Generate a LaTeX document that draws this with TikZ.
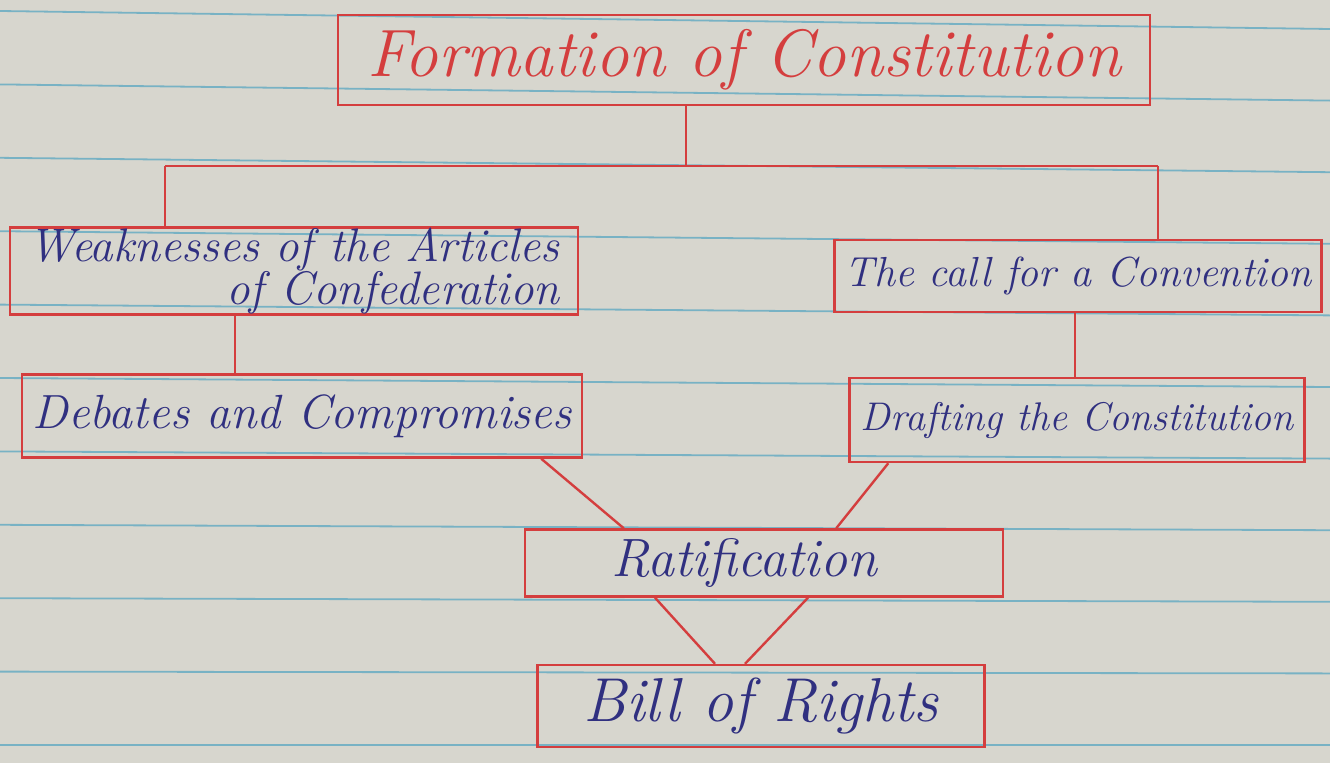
\documentclass[tikz,border=0pt]{standalone}
\usetikzlibrary{calc}

\definecolor{paper}{RGB}{215,214,206}
\definecolor{ruling}{RGB}{120,178,196}
\definecolor{redpen}{RGB}{212,62,62}
\definecolor{bluepen}{RGB}{48,48,128}

\begin{document}
\begin{tikzpicture}[x=1pt,y=1pt,yscale=-1,xscale=1,
		box/.style={draw=redpen, line width=2.4pt, inner sep=0pt, align=center, font=\itshape, text=bluepen},
		link/.style={draw=redpen, line width=2.4pt}]
		
		% Shape: Papier mit Linien
		\fill [paper] (0,0) rectangle (1330,763);
		\useasboundingbox (0,0) rectangle (1330,763);
		\foreach \k in {0,...,10} {
			\draw [ruling, line width=1.8pt] (0,{11+73.4*\k}) -- (1330,{11+73.4*\k+18*(1-\k/10)});
		}
		
		% Shape: Titel
		\node [box, text=redpen, minimum width=812pt, minimum height=90pt, font=\itshape\fontsize{67}{72}\selectfont] (title) at (744,60) {Formation of Constitution};
		
		% Shape: zweite Reihe
		\node [box, minimum width=568pt, minimum height=87pt, align=right, font=\itshape\fontsize{47}{36}\selectfont] (weak) at (294,271) {Weaknesses of the Articles\\of Confederation};
		\node [box, minimum width=487pt, minimum height=72pt, font=\itshape\fontsize{42}{46}\selectfont] (call) at (1078,276) {The call for a Convention};
		
		% Shape: dritte Reihe
		\node [box, minimum width=560pt, minimum height=83pt, font=\itshape\fontsize{48}{52}\selectfont] (debate) at (302,416) {Debates and Compromises};
		\node [box, minimum width=455pt, minimum height=84pt, font=\itshape\fontsize{40}{44}\selectfont] (draft) at (1077,420) {Drafting the Constitution};
		
		% Shape: unten
		\node [box, minimum width=478pt, minimum height=67pt, font=\itshape\fontsize{54}{58}\selectfont] (ratif) at (764,563) {Ratification\hspace*{40pt}};
		\node [box, minimum width=447pt, minimum height=82pt, font=\itshape\fontsize{62}{66}\selectfont] (bill) at (761,706) {Bill of Rights};
		
		% Connectors
		\coordinate (split) at (686,166);
		\coordinate (lfork) at (165,166);
		\coordinate (rfork) at (1158,166);
		\draw [link] (title.south -| split) -- (split);
		\draw [link] (lfork) -- (rfork);
		\draw [link] (lfork) -- (lfork |- weak.north);
		\draw [link] (rfork) -- (rfork |- call.north);
		\draw [link] ([xshift=-59pt]weak.south) -- ([xshift=-59pt]weak.south |- debate.north);
		\draw [link] ([xshift=-3pt]call.south) -- ([xshift=-3pt]call.south |- draft.north);
		\draw [link] ([xshift=-42pt]debate.south east) -- ([xshift=100pt]ratif.north west);
		\draw [link] ([xshift=40pt]draft.south west) -- ([xshift=-168pt]ratif.north east);
		\draw [link] ([xshift=-109pt]ratif.south) -- ([xshift=-46pt]bill.north);
		\draw [link] ([xshift=44pt]ratif.south) -- ([xshift=-16pt]bill.north);
		
	\end{tikzpicture}
\end{document}
